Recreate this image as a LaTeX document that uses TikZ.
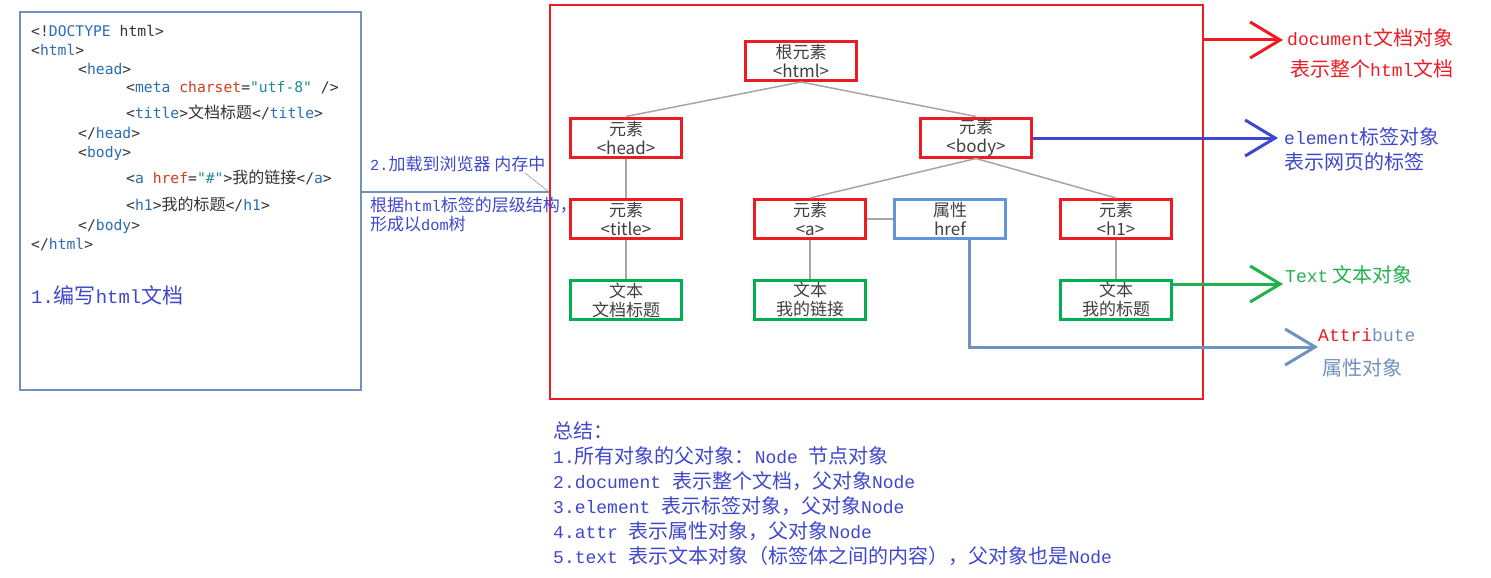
\documentclass[tikz,border=0pt]{standalone}
\usepackage{fontspec}
\usetikzlibrary{arrows.meta}
\newfontfamily\cjk{Noto Sans CJK SC}
\newfontfamily\codefont{DejaVu Sans Mono}
\newfontfamily\latfont{Liberation Mono}[Scale=0.9]
\newcommand\Lt[1]{{\latfont #1}}
\definecolor{nred}{HTML}{ED1C24}
\definecolor{ngreen}{HTML}{22B14C}
\definecolor{bgreen}{HTML}{00B050}
\definecolor{nblue}{HTML}{3F48CC}
\definecolor{attrc}{HTML}{7092BE}
\definecolor{hrefc}{HTML}{6495D6}
\definecolor{boxc}{HTML}{7092BE}
\definecolor{edgec}{HTML}{A6A6A6}
\definecolor{codegray}{HTML}{333333}
\definecolor{tagc}{RGB}{40,110,180}
\definecolor{attrnamec}{RGB}{210,60,30}
\definecolor{strc}{RGB}{30,140,150}
\definecolor{nodetext}{HTML}{404040}
\newcommand\tg[1]{\textcolor{tagc}{#1}}
\newcommand\atn[1]{\textcolor{attrnamec}{#1}}
\newcommand\stc[1]{\textcolor{strc}{#1}}
\begin{document}
\begin{tikzpicture}[x=1pt,y=-1pt,
  codeline/.style={anchor=west, inner sep=0pt, text=codegray, font=\codefont\fontsize{14.7}{17}\selectfont},
  note/.style={anchor=west, inner sep=0pt, font=\cjk\fontsize{20}{24}\selectfont},
  smallnote/.style={anchor=west, inner sep=0pt, text=nblue, font=\cjk\fontsize{17}{20}\selectfont},
  treebox/.style={minimum width=111pt, minimum height=39pt, inner sep=0pt, line width=3pt, align=center, text=nodetext, font=\cjk\fontsize{17}{19}\selectfont},
  elembox/.style={treebox, draw=nred},
  textbox/.style={treebox, draw=bgreen},
  attrbox/.style={treebox, draw=hrefc},
  edge/.style={draw=edgec, line width=1.5pt},
  bigarrow/.style={line width=3pt, -{Straight Barb[length=30pt,width=36pt]}}
]
\useasboundingbox (0,0) rectangle (1491,578);
\fill[white] (0,0) rectangle (1491,578);

% ---------- code box ----------
\node[draw=boxc, line width=1.2pt, minimum width=341pt, minimum height=378pt, inner sep=0pt] (code) at (190.5,201) {};
\node[codeline] (c1) at (31,31) {<!\tg{DOCTYPE} html>};
\node[codeline] (c2) at (31,50) {<\tg{html}>};
\node[codeline] (c3) at (78,69) {<\tg{head}>};
\node[codeline] (c4) at (126,88) {<\tg{meta} \atn{charset}=\stc{"utf-8"} />};
\node[codeline] (c5) at (126,112) {<\tg{title}>{\cjk\fontsize{16}{18}\selectfont 文档标题}</\tg{title}>};
\node[codeline] (c6) at (78,134) {</\tg{head}>};
\node[codeline] (c7) at (78,153) {<\tg{body}>};
\node[codeline] (c8) at (126,177) {<\tg{a} \atn{href}=\stc{"\#"}>{\cjk\fontsize{16}{18}\selectfont 我的链接}</\tg{a}>};
\node[codeline] (c9) at (126,204) {<\tg{h1}>{\cjk\fontsize{16}{18}\selectfont 我的标题}</\tg{h1}>};
\node[codeline] (c10) at (78,226) {</\tg{body}>};
\node[codeline] (c11) at (31,245) {</\tg{html}>};
\node[note, text=nblue, font=\cjk\fontsize{21}{25}\selectfont] (step1) at (31,295) {\Lt{1.}编写\Lt{html}文档};

% ---------- load connector ----------
\coordinate (loadend) at (549,192);
\draw[boxc, line width=1.2pt] (code.east |- loadend) -- (loadend);
\coordinate (ptrstart) at (525,173);
\draw[boxc, line width=0.5pt] (ptrstart) -- (loadend);
\node[smallnote] (step2) at (370,164) {\Lt{2.}加载到浏览器 内存中};

% ---------- DOM frame ----------
\node[draw=nred, line width=2.5pt, minimum width=653pt, minimum height=394pt, inner sep=0pt] (dom) at (876.5,202) {};
\node[smallnote] (step2b) at (370,205) {根据\Lt{html}标签的层级结构，};
\node[smallnote] (step2c) at (370,224) {形成以\Lt{dom}树};

% ---------- tree ----------
\node[elembox] (html) at (801,61) {根元素\\<html>};
\node[elembox] (head) at (626,137.5) {元素\\<head>};
\node[elembox] (body) at (976,137.5) {元素\\<body>};
\node[elembox] (title) at (626,219) {元素\\<title>};
\node[elembox] (a) at (810,219) {元素\\<a>};
\node[attrbox] (href) at (950,219) {属性\\href};
\node[elembox] (h1) at (1116,219) {元素\\<h1>};
\node[textbox] (t1) at (626,300) {文本\\文档标题};
\node[textbox] (t2) at (810,300) {文本\\我的链接};
\node[textbox] (t3) at (1116,300) {文本\\我的标题};

\draw[edge] (html.south) -- (head.north);
\draw[edge] (html.south) -- (body.north);
\draw[edge] (head.south) -- (title.north);
\draw[edge] (title.south) -- (t1.north);
\draw[edge] (body.south) -- (a.north);
\draw[edge] (body.south) -- (h1.north);
\draw[edge] (a.east) -- (href.west);
\draw[edge] (a.south) -- (t2.north);
\draw[edge] (h1.south) -- (t3.north);

% ---------- right arrows ----------
\coordinate (docend) at (1283,40);
\coordinate (elemend) at (1278,138);
\coordinate (textend) at (1283,284);
\coordinate (attrend) at (1318,347);
\draw[bigarrow, nred] (dom.east |- docend) -- (docend);
\draw[bigarrow, nblue] (body.east |- elemend) -- (elemend);
\draw[bigarrow, ngreen] (t3.east |- textend) -- (textend);
\draw[bigarrow, attrc] ([xshift=19pt]href.south) |- (attrend);

\node[note, text=nred] (docl1) at (1287,38) {\Lt{document}文档对象};
\node[note, text=nred] (docl2) at (1290,69) {表示整个\Lt{html}文档};
\node[note, text=nblue] (el1) at (1284,137) {\Lt{element}标签对象};
\node[note, text=nblue] (el2) at (1284,162) {表示网页的标签};
\node[note, text=ngreen] (tx1) at (1285,275) {\Lt{Text} 文本对象};
\node[note, text=attrc] (at1) at (1318,335) {\Lt{\textcolor{nred}{Attri}bute}};
\node[note, text=attrc] (at2) at (1322,368) {属性对象};

% ---------- summary ----------
\node[note, text=nblue] (s0) at (553,431) {总结：};
\node[note, text=nblue] (s1) at (553,456) {\Lt{1.}所有对象的父对象：\Lt{Node }节点对象};
\node[note, text=nblue] (s2) at (553,481) {\Lt{2.document }表示整个文档，父对象\Lt{Node}};
\node[note, text=nblue] (s3) at (553,506) {\Lt{3.element }表示标签对象，父对象\Lt{Node}};
\node[note, text=nblue] (s4) at (553,531) {\Lt{4.attr }表示属性对象，父对象\Lt{Node}};
\node[note, text=nblue] (s5) at (553,556) {\Lt{5.text }表示文本对象（标签体之间的内容），父对象也是\Lt{Node}};
\end{tikzpicture}
\end{document}
